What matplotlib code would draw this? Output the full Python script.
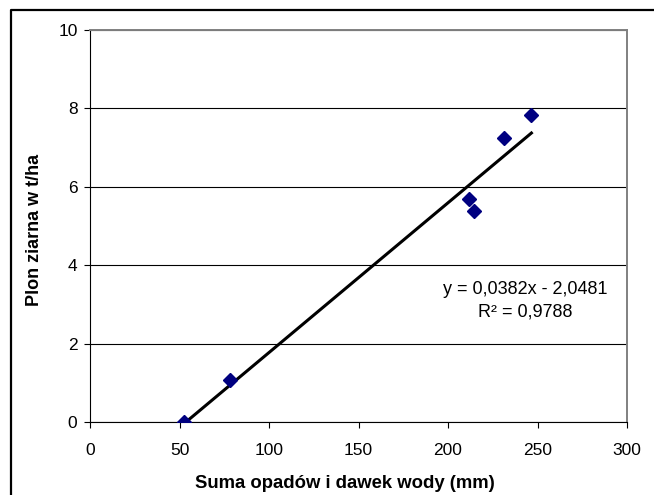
import matplotlib
matplotlib.use("Agg")
import matplotlib.pyplot as plt
from matplotlib.lines import Line2D
import numpy as np

plt.rcParams["font.family"] = ["Liberation Sans", "DejaVu Sans"]

opady = [52.4, 78.3, 211.9, 214.7, 231.2, 246.6]
plon = [0.0, 1.07, 5.70, 5.39, 7.25, 7.82]
a, b = 0.0382, -2.0481
r2 = 0.9788
x_ticks = [0, 50, 100, 150, 200, 250, 300]
y_ticks = [0, 2, 4, 6, 8, 10]

fig = plt.figure(figsize=(6.54, 4.95), dpi=100)
ax = fig.add_axes([90 / 654, 1 - 422 / 495, (627 - 90) / 654, (422 - 30) / 495])

# linia trendu
xs = np.array([min(opady), max(opady)])
ax.plot(xs, a * xs + b, color="black", linewidth=2.2, zorder=3)
ax.plot(opady, plon, linestyle="none", marker="D", markersize=7,
        color="#000080", zorder=4)

ax.set_xlim(0, 300)
ax.set_ylim(0, 10)
ax.set_xticks(x_ticks)
ax.set_yticks(y_ticks)
ax.yaxis.grid(True, color="black", linewidth=0.8)
ax.set_axisbelow(True)
ax.tick_params(direction="out", length=4, width=0.8, labelsize=12.5)
ax.tick_params(axis="x", pad=11)
ax.tick_params(axis="y", pad=5)
for sp in ("top", "right"):
    ax.spines[sp].set_color("#808080")
    ax.spines[sp].set_linewidth(1.4)
for sp in ("left", "bottom"):
    ax.spines[sp].set_color("black")
    ax.spines[sp].set_linewidth(0.8)

ax.set_xlabel("Suma opadów i dawek wody (mm)", fontsize=13.3,
              fontweight="bold", labelpad=12)
ax.set_ylabel("Plon ziarna w t/ha", fontsize=13, fontweight="bold",
              labelpad=11)
ax.xaxis.label.set_x(0.475)
ax.yaxis.label.set_y(0.49)

ax.text(243, 3.1, f"y = {a:.4f}x - {abs(b):.4f}\nR² = {r2:.4f}".replace(".", ","),
        ha="center", va="center", multialignment="center", fontsize=13,
        linespacing=1.4)

# ramka obszaru wykresu
fig.add_artist(Line2D([11 / 654, 11 / 654, 1], [0, 1 - 10 / 495, 1 - 10 / 495],
                      color="black", linewidth=1.6, transform=fig.transFigure))

fig.savefig("out.png", dpi=100)
